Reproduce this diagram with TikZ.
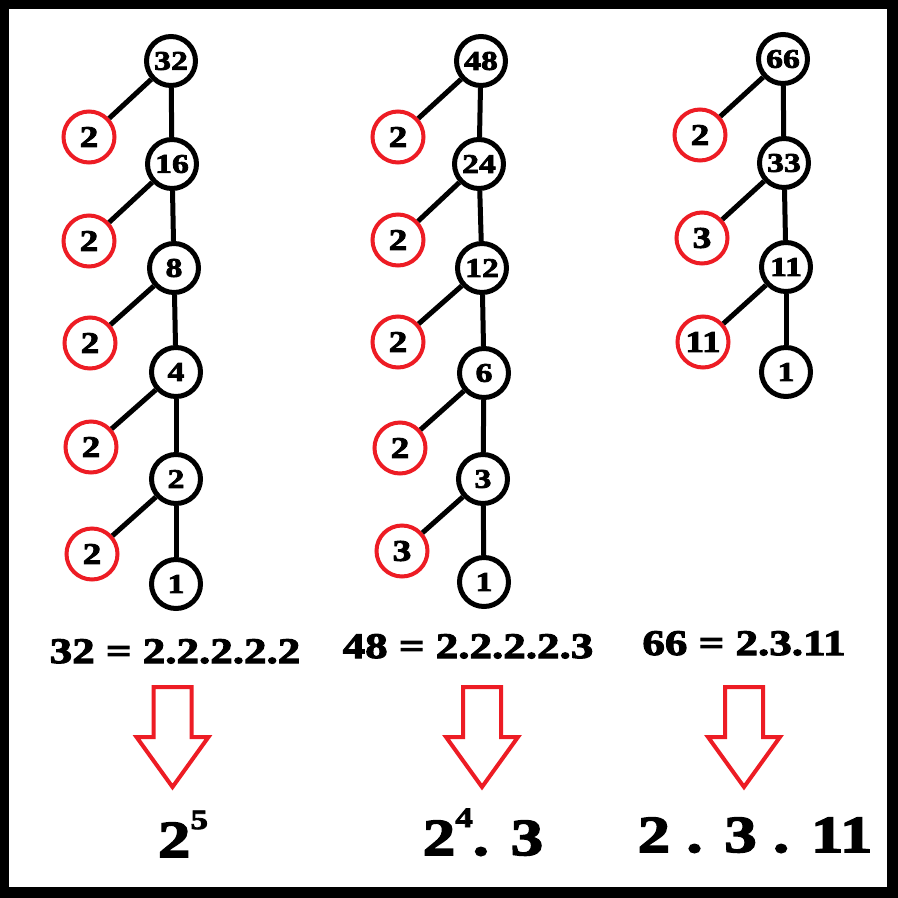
\documentclass[tikz,border=0pt]{standalone}
\usepackage{fontspec}
\usepackage{tikz}
\usetikzlibrary{calc}
\newfontfamily\kalin{Liberation Serif}[BoldFeatures={FakeBold=3,FakeStretch=1.25}]
\definecolor{asalKirmizi}{HTML}{ED1C24}
\definecolor{cerceve}{HTML}{000000}
\tikzset{
  sayi/.style={circle,draw=black,line width=5pt,minimum size=49pt,inner sep=0pt,
    font=\kalin\bfseries\fontsize{27}{27}\selectfont},
  asal/.style={sayi,draw=asalKirmizi,line width=4pt,minimum size=51pt,
    font=\kalin\bfseries\fontsize{30}{30}\selectfont},
  dal/.style={line width=5pt},
  okAsagi/.pic={\draw[asalKirmizi,line width=4pt]
    (-19,0) -- (19,0) -- (19,50) -- (36,50) -- (0,100) -- (-36,50) -- (-19,50) -- cycle;},
}
\begin{document}
\begin{tikzpicture}[x=1pt,y=-1pt]
% cerceve
\fill[cerceve] (0,0) rectangle (898,898);
\fill[white] (9,9) rectangle (887,887);
\useasboundingbox (0,0) rectangle (898,898);
% agac 1: 32
\foreach \v/\x/\y [count=\i] in {32/171/61,16/172/164,8/174/268,4/176/372,2/176/479,1/176/584}
  \node[sayi] (a\i) at (\x,\y) {\v};
\foreach \x/\y [count=\i] in {89/137,89/241,90/343,91/447,92/554}
  \node[asal] (p\i) at (\x,\y) {2};
\foreach \i [evaluate=\i as \j using int(\i+1)] in {1,...,5} {
  \draw[dal] (a\i) -- (a\j);
  \draw[dal] (a\i) -- (p\i);
}
% agac 2: 48
\foreach \v/\x/\y [count=\i] in {48/481/61,24/479/164,12/482/268,6/484/373,3/483/479,1/484/582}
  \node[sayi] (b\i) at (\x,\y) {\v};
\foreach \v/\x/\y [count=\i] in {2/398/137,2/398/240,2/398/342,2/400/448,3/402/551}
  \node[asal] (q\i) at (\x,\y) {\v};
\foreach \i [evaluate=\i as \j using int(\i+1)] in {1,...,5} {
  \draw[dal] (b\i) -- (b\j);
  \draw[dal] (b\i) -- (q\i);
}
% agac 3: 66
\foreach \v/\x/\y [count=\i] in {66/783/59,33/784/163,11/786/267,1/786/372}
  \node[sayi] (c\i) at (\x,\y) {\v};
\foreach \v/\x/\y [count=\i] in {2/700/135,3/702/238,11/703/342}
  \node[asal] (r\i) at (\x,\y) {\v};
\foreach \i [evaluate=\i as \j using int(\i+1)] in {1,...,3} {
  \draw[dal] (c\i) -- (c\j);
  \draw[dal] (c\i) -- (r\i);
}
% carpanlar
\begin{scope}[every node/.style={anchor=base,inner sep=0pt,font=\kalin\bfseries\fontsize{36}{36}\selectfont}]
\node (e1) at (175,663) {32 = 2.2.2.2.2};
\node (e2) at (468,658) {48 = 2.2.2.2.3};
\node (e3) at (744,655) {66 = 2.3.11};
\end{scope}
% oklar
\pic at (172.5,687) {okAsagi};
\pic at (482,687) {okAsagi};
\pic at (744,687) {okAsagi};
% sonuclar
\begin{scope}[every node/.style={anchor=base,inner sep=0pt,font=\kalin\bfseries\fontsize{52}{52}\selectfont}]
\node (s1) at (183,857) {2\raisebox{28pt}{\fontsize{28}{28}\selectfont 5}};
\node (s2) at (483,855) {2\raisebox{28pt}{\fontsize{28}{28}\selectfont 4}. 3};
\node (s3) at (755,852) {2 . 3 . 11};
\end{scope}
\end{tikzpicture}
\end{document}
